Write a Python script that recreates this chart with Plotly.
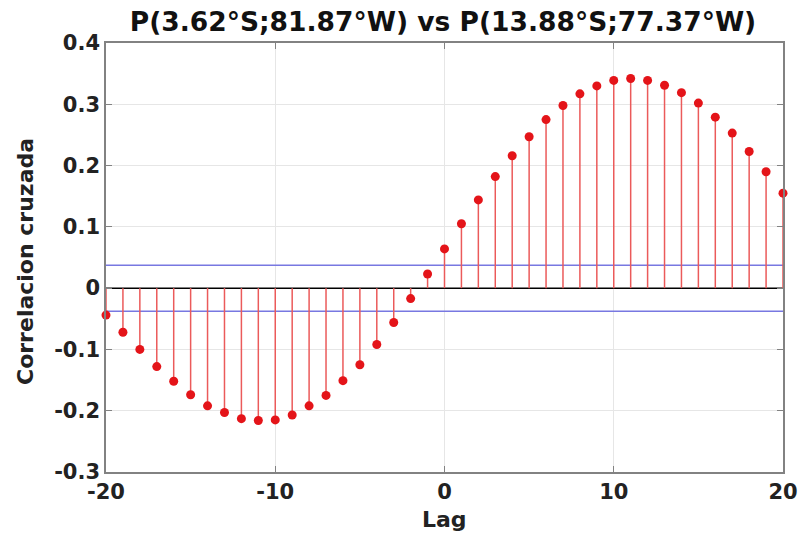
import plotly.graph_objects as go

lags = list(range(-20, 21))
xcorr = [-0.044, -0.072, -0.100, -0.128, -0.152, -0.174, -0.192, -0.203, -0.213, -0.216,
         -0.215, -0.207, -0.192, -0.175, -0.151, -0.125, -0.092, -0.056, -0.017, 0.023,
         0.064, 0.105, 0.144, 0.182, 0.216, 0.247, 0.275, 0.298, 0.317, 0.330,
         0.339, 0.342, 0.339, 0.331, 0.319, 0.302, 0.279, 0.253, 0.223, 0.190,
         0.155]
conf_bound = 0.0375
title_text = "P(3.62°S;81.87°W) vs P(13.88°S;77.37°W)"
xlabel = "Lag"
ylabel = "Correlacion cruzada"
xticks = [-20, -10, 0, 10, 20]
yticks = [-0.3, -0.2, -0.1, 0, 0.1, 0.2, 0.3, 0.4]

FONT = "DejaVu Sans"

stem_x, stem_y = [], []
for lx, v in zip(lags, xcorr):
    stem_x += [lx, lx, None]
    stem_y += [0, v, None]

fig = go.Figure()
fig.add_trace(go.Scatter(x=[lags[0], lags[-1]], y=[conf_bound, conf_bound], mode="lines",
                         line=dict(color="rgb(120,120,225)", width=1.5), hoverinfo="skip"))
fig.add_trace(go.Scatter(x=[lags[0], lags[-1]], y=[-conf_bound, -conf_bound], mode="lines",
                         line=dict(color="rgb(120,120,225)", width=1.5), hoverinfo="skip"))
fig.add_trace(go.Scatter(x=[lags[0], lags[-1]], y=[0, 0], mode="lines",
                         line=dict(color="black", width=1.5), hoverinfo="skip"))
fig.add_trace(go.Scatter(x=stem_x, y=stem_y, mode="lines",
                         line=dict(color="rgb(235,90,90)", width=1.5)))
fig.add_trace(go.Scatter(x=lags, y=xcorr, mode="markers", cliponaxis=False,
                         marker=dict(color="rgb(228,20,25)", size=9, line=dict(width=0))))

fig.update_layout(
    width=801, height=535,
    margin=dict(l=106, r=18, t=43, b=63, autoexpand=False),
    paper_bgcolor="white", plot_bgcolor="white",
    showlegend=False,
    font=dict(family=FONT, size=21, color="#262626"),
    title=dict(text="<b>" + title_text + "</b>", x=(443 - 106) / 677, xref="paper", xanchor="center",
               y=1 - 22 / 535, yref="container", yanchor="middle",
               font=dict(family=FONT, size=26.5, color="#111")),
)
fig.update_xaxes(range=[-20, 20], tickvals=xticks, ticktext=["<b>%d</b>" % t for t in xticks],
                 automargin=False,
                 showgrid=True, gridcolor="rgb(230,230,230)", gridwidth=1,
                 zeroline=False, showline=True, linecolor="rgb(130,130,130)", linewidth=1.5,
                 mirror="ticks", ticks="inside", ticklen=6, tickcolor="rgb(130,130,130)",
                 tickfont=dict(family=FONT, size=21, color="#222"))
fig.update_yaxes(range=[-0.3, 0.4], tickvals=yticks,
                 ticktext=["<b>%g</b>" % t for t in yticks],
                 automargin=False,
                 showgrid=True, gridcolor="rgb(230,230,230)", gridwidth=1,
                 zeroline=False, showline=True, linecolor="rgb(130,130,130)", linewidth=1.5,
                 mirror="ticks", ticks="inside", ticklen=6, tickcolor="rgb(130,130,130)",
                 tickfont=dict(family=FONT, size=21, color="#222"))

fig.add_annotation(text="<b>" + ylabel + "</b>", textangle=-90, xref="paper", yref="paper",
                   x=(25 - 106) / 677, y=(472 - 262) / 429, xanchor="center", yanchor="middle",
                   showarrow=False, font=dict(family=FONT, size=22, color="#222"))
fig.add_annotation(text="<b>" + xlabel + "</b>", xref="paper", yref="paper",
                   x=(444 - 106) / 677, y=(472 - 519) / 429, xanchor="center", yanchor="middle",
                   showarrow=False, font=dict(family=FONT, size=22, color="#222"))

fig.write_html("out.html")
